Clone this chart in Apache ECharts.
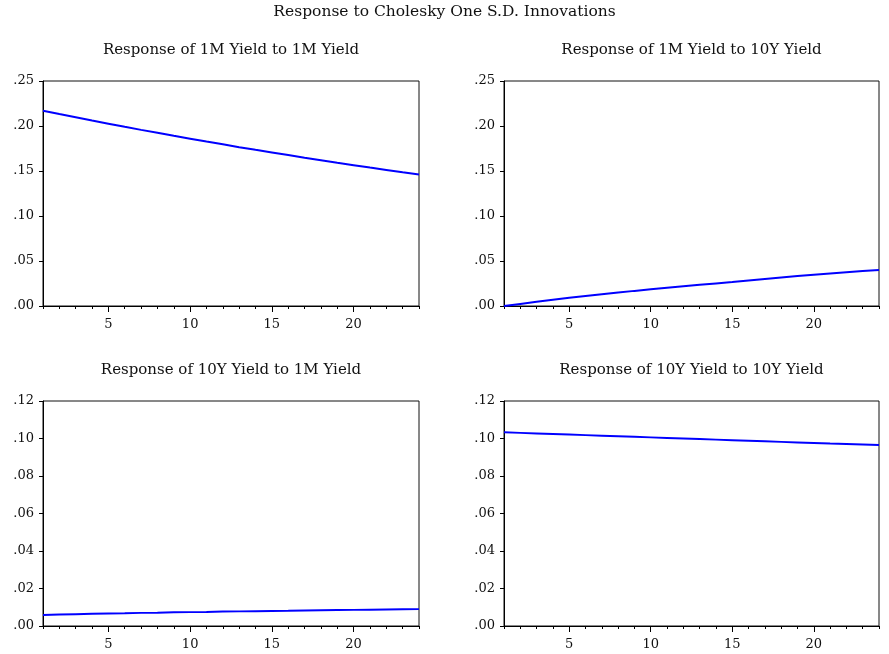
<!DOCTYPE html>
<html><head><meta charset="utf-8">
<script src="https://cdn.jsdelivr.net/npm/echarts@6/dist/echarts.min.js"></script>
<style>html,body{margin:0;padding:0;background:#fff}#c{width:889px;height:654px}</style>
</head><body><div id="c"></div>
<script>
const periods = [1,2,3,4,5,6,7,8,9,10,11,12,13,14,15,16,17,18,19,20,21,22,23,24];
const xTickLabels = [5,10,15,20];
const mainTitle = 'Response to Cholesky One S.D. Innovations';
const panelTitles = ['Response of 1M Yield to 1M Yield','Response of 1M Yield to 10Y Yield','Response of 10Y Yield to 1M Yield','Response of 10Y Yield to 10Y Yield'];
const y1Mto1M = [0.2170,0.2133,0.2097,0.2061,0.2026,0.1991,0.1957,0.1924,0.1891,0.1859,0.1827,0.1796,0.1765,0.1735,0.1706,0.1677,0.1648,0.1620,0.1592,0.1565,0.1538,0.1512,0.1486,0.1461];
const y1Mto10Y = [0.0000,0.0023,0.0046,0.0069,0.0092,0.0111,0.0130,0.0149,0.0168,0.0186,0.0203,0.0219,0.0235,0.0251,0.0267,0.0284,0.0300,0.0316,0.0332,0.0347,0.0361,0.0375,0.0388,0.0400];
const y10Yto1M = [0.0059,0.0061,0.0063,0.0065,0.0067,0.0068,0.0070,0.0071,0.0073,0.0074,0.0075,0.0077,0.0078,0.0079,0.0080,0.0081,0.0083,0.0084,0.0085,0.0086,0.0087,0.0088,0.0089,0.0090];
const y10Yto10Y = [0.1033,0.1030,0.1027,0.1024,0.1021,0.1018,0.1015,0.1012,0.1009,0.1006,0.1003,0.1000,0.0997,0.0994,0.0991,0.0988,0.0985,0.0982,0.0979,0.0976,0.0973,0.0971,0.0968,0.0965];
const topYMax = 0.25, topYStep = 0.05;
const botYMax = 0.12, botYStep = 0.02;

const seriesData = [y1Mto1M, y1Mto10Y, y10Yto1M, y10Yto10Y];
const font = 'DejaVu Serif';
const grids = [
  {left:43, top:81, width:376, height:225},
  {left:504, top:81, width:375, height:225},
  {left:43, top:401, width:376, height:225},
  {left:504, top:401, width:375, height:225}
];
const fmtY = v => { const s = v.toFixed(2); return s.replace(/^0/, ''); };

const option = {
  animation:false,
  backgroundColor:'#fff',
  title: [{text: mainTitle, left:'center', top:4, padding:0, textStyle:{fontFamily:font, fontSize:15.5, fontWeight:'normal', color:'#111'}}].concat(
    panelTitles.map((t,i)=>({text:t, left: grids[i].left + grids[i].width/2, top: grids[i].top - 38.5, padding:0, textAlign:'center',
      textStyle:{fontFamily:font, fontSize:15, fontWeight:'normal', color:'#111'}}))),
  grid: grids.map(g=>Object.assign({show:true, borderColor:'#111', borderWidth:1, backgroundColor:'#fff'}, g)),
  xAxis: [],
  yAxis: [],
  series: []
};
for (let i=0;i<4;i++){
  option.xAxis.push({type:'value', gridIndex:i, min:1, max:24, interval:1, position:'bottom',
    axisLine:{show:true, onZero:false, lineStyle:{color:'#000', width:1}},
    axisTick:{show:true, length:3, lineStyle:{color:'#000'}},
    axisLabel:{show:false}, splitLine:{show:false}});
  option.xAxis.push({type:'value', gridIndex:i, min:1, max:24, position:'bottom',
    axisLine:{show:false, onZero:false},
    axisTick:{show:true, length:6, customValues:xTickLabels, lineStyle:{color:'#000'}},
    axisLabel:{show:true, customValues:xTickLabels, margin:12, fontFamily:font, fontSize:13, color:'#111'},
    splitLine:{show:false}});
  const top = i<2;
  option.yAxis.push({type:'value', gridIndex:i, min:0, max: top?topYMax:botYMax, interval: top?topYStep:botYStep,
    axisLine:{show:true, lineStyle:{color:'#000'}},
    axisTick:{show:true, length:4, lineStyle:{color:'#000'}},
    axisLabel:{formatter: fmtY, margin:9, fontFamily:font, fontSize:13, color:'#111'},
    splitLine:{show:false}});
  option.series.push({type:'line', xAxisIndex:2*i, yAxisIndex:i, showSymbol:false, symbol:'none',
    data: periods.map((p,k)=>[p, seriesData[i][k]]),
    lineStyle:{color:'#0000ff', width:2}, itemStyle:{color:'#0000ff'}});
}
echarts.init(document.getElementById('c'), null, {renderer:'canvas'}).setOption(option);
</script></body></html>
